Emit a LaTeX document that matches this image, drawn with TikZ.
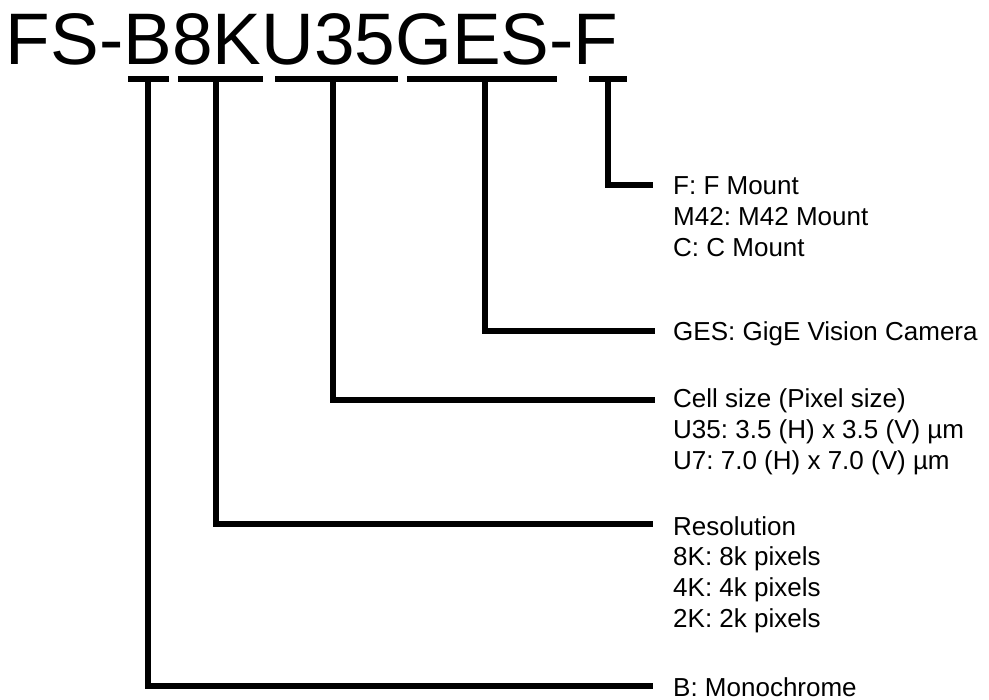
\documentclass[tikz,border=0pt]{standalone}
\usepackage{fontspec}
\setmainfont{Liberation Sans}
\usetikzlibrary{positioning}
\frenchspacing

\tikzset{
    bar/.style={fill=black, inner sep=0pt, minimum height=6pt},
    link/.style={line width=6pt},
    legend/.style={anchor=base west, inner sep=0pt, align=left,
        font=\fontsize{26}{30.8}\selectfont}
}

\begin{document}
\begin{tikzpicture}[x=1pt, y=-1pt]
        \useasboundingbox (0,0) rectangle (989,700);

        % Model code
        \node[anchor=base west, inner sep=0pt, font=\fontsize{73}{80}\selectfont] (code) at (5.7,65) {FS-B8KU35GES-F};

        % Bars under each part of the code
        \node[bar, minimum width=41pt] (uB) at (148.5,79) {};
        \node[bar, minimum width=85pt] (uK) at (220.5,79) {};
        \node[bar, minimum width=123pt] (uU) at (336.5,79) {};
        \node[bar, minimum width=150pt] (uG) at (482,79) {};
        \node[bar, minimum width=38pt] (uF) at (608,79) {};

        % Stems and ends of the connectors
        \coordinate (sB) at (148,79);
        \coordinate (sK) at (216,79);
        \coordinate (sU) at (333,79);
        \coordinate (sG) at (485,79);
        \coordinate (sF) at (608,79);
        \coordinate (eB) at (653,686);
        \coordinate (eK) at (653,524);
        \coordinate (eU) at (655,400);
        \coordinate (eG) at (655,331);
        \coordinate (eF) at (653,185);

        % Explanations (base anchor sits on the last line)
        \node[legend] (lF) at (673,256.6) {F: F Mount\\M42: M42 Mount\\C: C Mount};
        \node[legend] (lG) at (673,341) {GES: GigE Vision Camera};
        \node[legend] (lU) at (673,469.6) {Cell size (Pixel size)\\U35: 3.5 (H) x 3.5 (V) µm\\U7: 7.0 (H) x 7.0 (V) µm};
        \node[legend] (lK) at (673,627.4) {Resolution\\8K: 8k pixels\\4K: 4k pixels\\2K: 2k pixels};
        \node[legend] (lB) at (673,696) {B: Monochrome};

        % Connectors
        \draw[link] (sF) |- (eF);
        \draw[link] (sG) |- (eG);
        \draw[link] (sU) |- (eU);
        \draw[link] (sK) |- (eK);
        \draw[link] (sB) |- (eB);
    \end{tikzpicture}
\end{document}
